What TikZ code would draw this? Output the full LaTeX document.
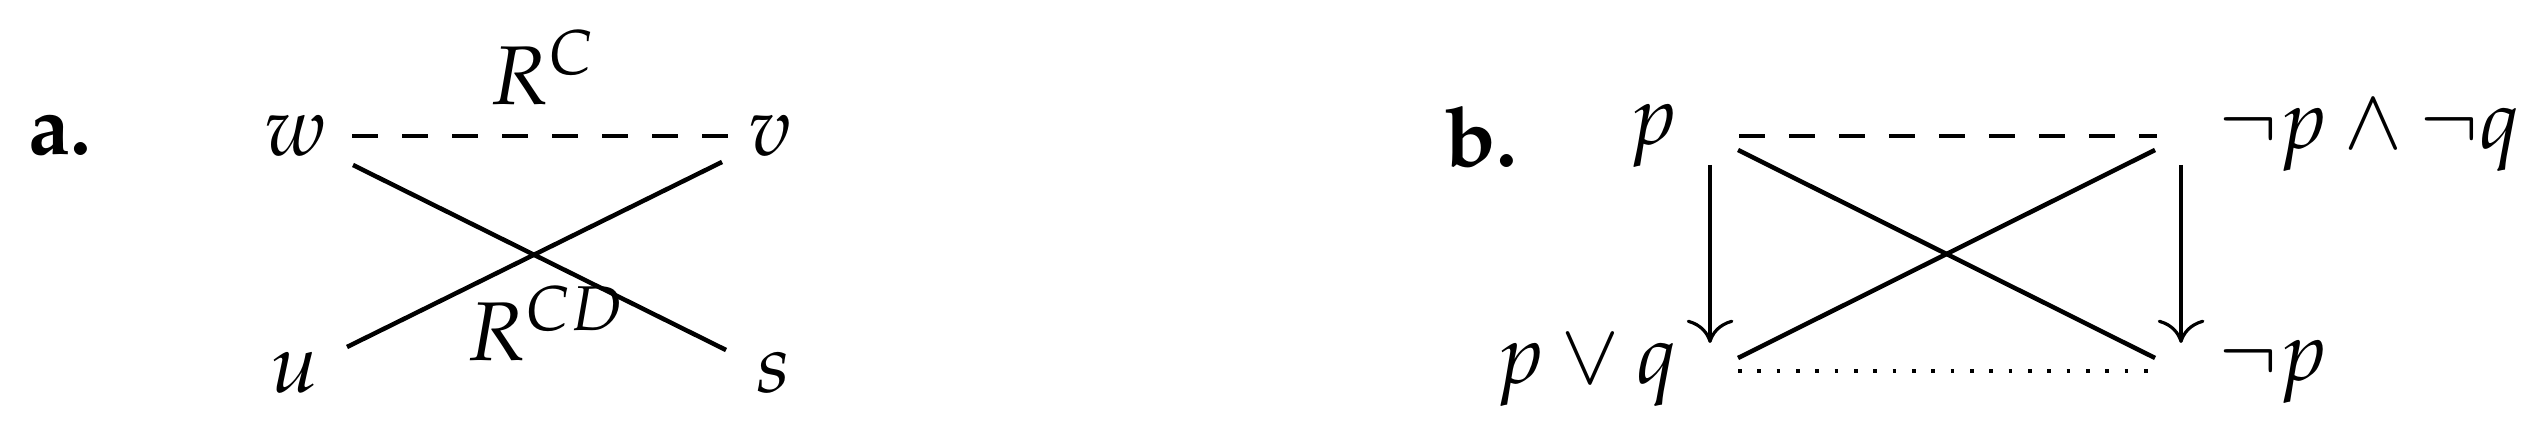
\documentclass[tikz,border=0pt]{standalone}
\usepackage[T1]{fontenc}
\usepackage{mathpazo}
\usetikzlibrary{arrows.meta}
\begin{document}
\begin{tikzpicture}[x=0.3pt,y=-0.3pt,
  lbl/.style={inner sep=0pt, font=\fontsize{25}{30}\selectfont},
  solidln/.style={line width=1.35pt},
  dashln/.style={line width=1.35pt, dash pattern=on 7.8pt off 7.2pt},
  dotln/.style={line width=1.1pt, dash pattern=on 1.1pt off 4.7pt},
  arr/.style={line width=0.95pt, -{Computer Modern Rightarrow[length=7pt,width=14pt]}}]
\useasboundingbox (0,0) rectangle (2537,436);

% panel a
\node[lbl, anchor=base west] (la) at (28,155) {\bfseries a.};
\node[lbl] (w) at (296,136) {$w$};
\node[lbl] (v) at (770,136) {$v$};
\node[lbl] (u) at (295,373) {$u$};
\node[lbl] (s) at (774,373) {$s$};
\node[lbl, anchor=base west] (rc) at (489,105) {$R^{C}$};
\node[lbl, anchor=base west] (rcd) at (466,361) {$R^{CD}$};

\coordinate (wd) at (352,136);
\coordinate (vd) at (728,136);
\coordinate (wx) at (353,165);
\coordinate (sx) at (726,350);
\coordinate (ux) at (347,347);
\coordinate (vx) at (722,162);

\draw[dashln] (wd) -- (vd);
\draw[solidln] (wx) -- (sx);
\draw[solidln] (ux) -- (vx);

% panel b
\node[lbl, anchor=base west] (lb) at (1445,167) {\bfseries b.};
\node[lbl, anchor=east] (p) at (1678,136) {$p$};
\node[lbl, anchor=west] (npq) at (2218,136) {$\neg p\wedge\neg q$};
\node[lbl, anchor=east] (pq) at (1678,371) {$p\vee q$};
\node[lbl, anchor=west] (np) at (2218,372) {$\neg p$};

\coordinate (pd) at (1739,136);
\coordinate (nd) at (2157,136);
\coordinate (px) at (1738,150);
\coordinate (npx) at (2155,358);
\coordinate (pqx) at (1738,358);
\coordinate (npqx) at (2155,150);
\coordinate (pa1) at (1710,165);
\coordinate (pa2) at (1710,343);
\coordinate (na1) at (2181,165);
\coordinate (na2) at (2181,343);
\coordinate (pqd) at (1738,371);
\coordinate (npd) at (2150,371);

\draw[dashln] (pd) -- (nd);
\draw[solidln] (px) -- (npx);
\draw[solidln] (pqx) -- (npqx);
\draw[arr] (pa1) -- (pa2);
\draw[arr] (na1) -- (na2);
\draw[dotln] (pqd) -- (npd);
\end{tikzpicture}
\end{document}
